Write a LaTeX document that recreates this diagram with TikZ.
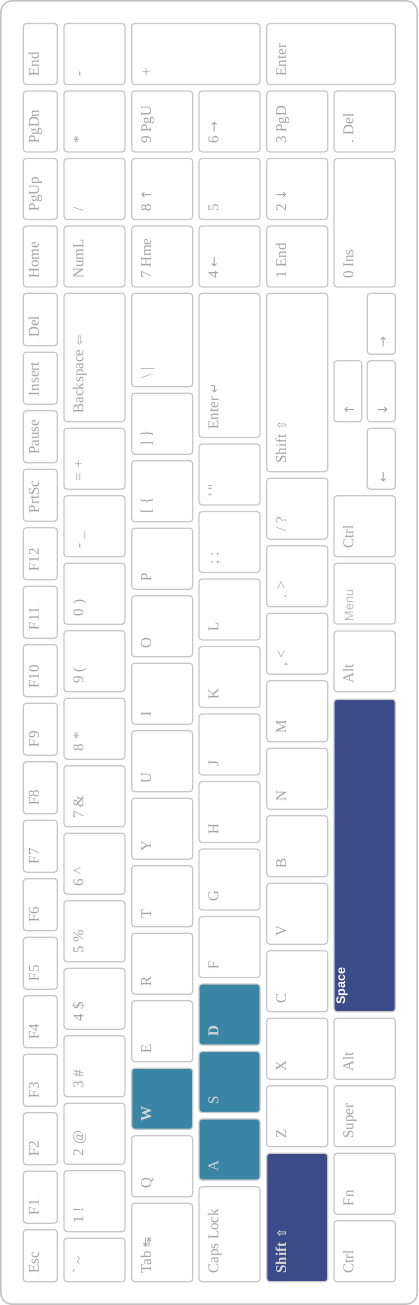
\documentclass[tikz,border=0pt]{standalone}
\usepackage{fontspec}
\setmainfont{Liberation Serif}
\newfontfamily\kbsym{DejaVu Sans}
\newfontfamily\kbsans{Liberation Sans}
\definecolor{keyline}{RGB}{200,200,200}
\definecolor{framegray}{RGB}{195,195,195}
\definecolor{labelgray}{RGB}{165,165,165}
\definecolor{menugray}{RGB}{190,190,190}
\definecolor{tealkey}{RGB}{58,132,165}
\definecolor{bluekey}{RGB}{59,74,136}
\definecolor{hltext}{RGB}{215,215,215}
\newcommand\kbdx{8}
\newcommand\kbdy{19.3}
\newcommand\kbkey[7][plain]{%
  \draw[keybox,#1] (#3,#5) rectangle (#4,#6);
  \node[keylabel,#1 text] (#2) at (#3+\kbdx,#6-\kbdy) {#7};}
\newcommand\sy[1]{{\kbsym\fontsize{12}{12}\selectfont #1}}
\newcommand\ar[1]{{\kbsym\fontsize{13}{13}\selectfont #1}}
\tikzset{
  keybox/.style={draw=keyline, line width=1.2pt, rounded corners=3pt, fill=white},
  keylabel/.style={anchor=base west, inner sep=0pt, text=labelgray,
    font=\fontsize{15}{15}\selectfont, transform shape},
  plain/.style={}, plain text/.style={},
  wasd/.style={fill=tealkey}, wasd text/.style={text=hltext},
  wasdb/.style={fill=tealkey}, wasdb text/.style={text=hltext, font=\bfseries\fontsize{15}{15}\selectfont},
  dark/.style={fill=bluekey}, dark text/.style={text=hltext, font=\bfseries\fontsize{15}{15}\selectfont},
  space/.style={fill=bluekey}, space text/.style={text=white, font=\kbsans\bfseries\fontsize{12.5}{12.5}\selectfont},
  menu/.style={}, menu text/.style={text=menugray, font=\kbsans\fontsize{12.5}{12.5}\selectfont},
  frame/.style={draw=framegray, line width=1.5pt, rounded corners=11pt}
}
\begin{document}
\begin{tikzpicture}[x=1pt,y=1pt]
\useasboundingbox (0,0) rectangle (418,-1305);
\draw[frame] (0.8,-0.8) rectangle (417.2,-1304.2);
\begin{scope}[shift={(418,-1305)}, rotate=90]
% ---------- row 0 : function row ----------
\renewcommand\kbdy{15.5}
\kbkey{esc}{23.3}{75.3}{360.7}{394.7}{Esc}
\kbkey{f1}{81.8}{133.8}{360.7}{394.7}{F1}
\kbkey{f2}{140.3}{192.3}{360.7}{394.7}{F2}
\kbkey{f3}{198.8}{250.8}{360.7}{394.7}{F3}
\kbkey{f4}{257.3}{309.3}{360.7}{394.7}{F4}
\kbkey{f5}{315.8}{367.8}{360.7}{394.7}{F5}
\kbkey{f6}{374.3}{426.3}{360.7}{394.7}{F6}
\kbkey{f7}{432.8}{484.8}{360.7}{394.7}{F7}
\kbkey{f8}{491.3}{543.3}{360.7}{394.7}{F8}
\kbkey{f9}{549.8}{601.8}{360.7}{394.7}{F9}
\kbkey{f10}{608.3}{660.3}{360.7}{394.7}{F10}
\kbkey{f11}{666.8}{718.8}{360.7}{394.7}{F11}
\kbkey{f12}{725.3}{777.3}{360.7}{394.7}{F12}
\kbkey{prtsc}{783.8}{835.8}{360.7}{394.7}{PrtSc}
\kbkey{pause}{842.3}{894.3}{360.7}{394.7}{Pause}
\kbkey{insert}{900.8}{952.8}{360.7}{394.7}{Insert}
\kbkey{del}{959.3}{1011.7}{360.7}{394.7}{Del}
\kbkey{home}{1018}{1079}{360.7}{394.7}{Home}
\kbkey{pgup}{1085.5}{1146.5}{360.7}{394.7}{PgUp}
\kbkey{pgdn}{1153}{1214}{360.7}{394.7}{PgDn}
\kbkey{end}{1220.5}{1281.5}{360.7}{394.7}{End}
\renewcommand\kbdy{19.3}
% ---------- row 1 : numbers ----------
\kbkey{grave}{23.3}{66.8}{293}{354}{\textasciigrave\ \textasciitilde}
\kbkey{n1}{73.3}{134.3}{293}{354}{1 !}
\kbkey{n2}{140.8}{201.8}{293}{354}{2 @}
\kbkey{n3}{208.3}{269.3}{293}{354}{3 \#}
\kbkey{n4}{275.8}{336.8}{293}{354}{4 \$}
\kbkey{n5}{343.3}{404.3}{293}{354}{5 \%}
\kbkey{n6}{410.8}{471.8}{293}{354}{6 \textasciicircum}
\kbkey{n7}{478.3}{539.3}{293}{354}{7 \&}
\kbkey{n8}{545.8}{606.8}{293}{354}{8 *}
\kbkey{n9}{613.3}{674.3}{293}{354}{9 (}
\kbkey{n0}{680.8}{741.8}{293}{354}{0 )}
\kbkey{minus}{748.3}{809.3}{293}{354}{- \_}
\kbkey{equal}{815.8}{876.8}{293}{354}{= +}
\kbkey{bksp}{883.3}{1011.7}{293}{354}{Backspace \sy{⇦}}
\kbkey{numl}{1018}{1079}{293}{354}{NumL}
\kbkey{kpslash}{1085.5}{1146.5}{293}{354}{/}
\kbkey{kpstar}{1153}{1214}{293}{354}{*}
\kbkey{kpminus}{1220.5}{1281.5}{293}{354}{-}
% ---------- row 2 : QWERTY ----------
\kbkey{tab}{23.3}{101.7}{225.3}{286.3}{Tab \sy{↹}}
\kbkey{q}{108.3}{169.3}{225.3}{286.3}{Q}
\kbkey[wasdb]{w}{175.8}{236.8}{225.3}{286.3}{W}
\kbkey{e}{243.3}{304.3}{225.3}{286.3}{E}
\kbkey{r}{310.8}{371.8}{225.3}{286.3}{R}
\kbkey{t}{378.3}{439.3}{225.3}{286.3}{T}
\kbkey{y}{445.8}{506.8}{225.3}{286.3}{Y}
\kbkey{u}{513.3}{574.3}{225.3}{286.3}{U}
\kbkey{i}{580.8}{641.8}{225.3}{286.3}{I}
\kbkey{o}{648.3}{709.3}{225.3}{286.3}{O}
\kbkey{p}{715.8}{776.8}{225.3}{286.3}{P}
\kbkey{lbr}{783.3}{844.3}{225.3}{286.3}{[ \{}
\kbkey{rbr}{850.8}{911.8}{225.3}{286.3}{] \}}
\kbkey{bslash}{918.3}{1011.7}{225.3}{286.3}{\textbackslash\ |}
\kbkey{kp7}{1018}{1079}{225.3}{286.3}{7 Hme}
\kbkey{kp8}{1085.5}{1146.5}{225.3}{286.3}{8 \ar{↑}}
\kbkey{kp9}{1153}{1214}{225.3}{286.3}{9 PgU}
\kbkey{kpplus}{1220.5}{1281.5}{158}{286.3}{+}
% ---------- row 3 : home row ----------
\kbkey{caps}{23.3}{118.3}{158}{219}{Caps Lock}
\kbkey[wasd]{a}{125}{186}{158}{219}{A}
\kbkey[wasd]{s}{192.5}{253.5}{158}{219}{S}
\kbkey[wasdb]{d}{260}{321}{158}{219}{D}
\kbkey{f}{327.5}{388.5}{158}{219}{F}
\kbkey{g}{395}{456}{158}{219}{G}
\kbkey{h}{462.5}{523.5}{158}{219}{H}
\kbkey{j}{530}{591}{158}{219}{J}
\kbkey{k}{597.5}{658.5}{158}{219}{K}
\kbkey{l}{665}{726}{158}{219}{L}
\kbkey{semi}{732.5}{793.5}{158}{219}{; :}
\kbkey{quote}{800}{861}{158}{219}{\textquotesingle\ \textquotedbl}
\kbkey{enter}{867.5}{1011.7}{158}{219}{Enter \sy{↵}}
\kbkey{kp4}{1018}{1079}{158}{219}{4 \ar{←}}
\kbkey{kp5}{1085.5}{1146.5}{158}{219}{5}
\kbkey{kp6}{1153}{1214}{158}{219}{6 \ar{→}}
% ---------- row 4 : shift row ----------
\kbkey[dark]{lshift}{23.3}{151.7}{90.3}{151.3}{Shift \sy{⇧}}
\kbkey{z}{158.3}{219.3}{90.3}{151.3}{Z}
\kbkey{x}{225.8}{286.8}{90.3}{151.3}{X}
\kbkey{c}{293.3}{354.3}{90.3}{151.3}{C}
\kbkey{v}{360.8}{421.8}{90.3}{151.3}{V}
\kbkey{b}{428.3}{489.3}{90.3}{151.3}{B}
\kbkey{nn}{495.8}{556.8}{90.3}{151.3}{N}
\kbkey{m}{563.3}{624.3}{90.3}{151.3}{M}
\kbkey{comma}{630.8}{691.8}{90.3}{151.3}{, <}
\kbkey{period}{698.3}{759.3}{90.3}{151.3}{. >}
\kbkey{slash}{765.8}{826.8}{90.3}{151.3}{/ ?}
\kbkey{rshift}{833.3}{1011.7}{90.3}{151.3}{Shift \sy{⇧}}
\kbkey{kp1}{1018}{1079}{90.3}{151.3}{1 End}
\kbkey{kp2}{1085.5}{1146.5}{90.3}{151.3}{2 \ar{↓}}
\kbkey{kp3}{1153}{1214}{90.3}{151.3}{3 PgD}
\kbkey{kpenter}{1220.5}{1281.5}{22.7}{151.3}{Enter}
% ---------- row 5 : bottom row ----------
\kbkey{lctrl}{23.3}{84.3}{22.7}{84}{Ctrl}
\kbkey{fn}{90.8}{151.8}{22.7}{84}{Fn}
\kbkey{super}{158.3}{219.3}{22.7}{84}{Super}
\kbkey{lalt}{225.8}{286.8}{22.7}{84}{Alt}
\renewcommand\kbdx{6.7}\renewcommand\kbdy{11}
\kbkey[space]{spacebar}{293.3}{605.7}{22.7}{84}{Space}
\renewcommand\kbdx{8}\renewcommand\kbdy{19.3}
\kbkey{ralt}{613.3}{674}{22.7}{84}{Alt}
\renewcommand\kbdx{2.5}
\kbkey[menu]{menukey}{681}{741.7}{22.7}{84}{Menu}
\renewcommand\kbdx{8}
\kbkey{rctrl}{748.3}{809.3}{22.7}{84}{Ctrl}
\renewcommand\kbdx{6.5}\renewcommand\kbdy{20}
\kbkey{left}{815.7}{876.7}{22.7}{50.7}{\ar{←}}
\kbkey{up}{883.3}{944.3}{56.3}{84}{\ar{↑}}
\kbkey{down}{883.3}{944.3}{22.7}{50.7}{\ar{↓}}
\kbkey{right}{950.7}{1011.7}{22.7}{50.7}{\ar{→}}
\renewcommand\kbdx{8}\renewcommand\kbdy{19.3}
\kbkey{kp0}{1018}{1146.5}{22.7}{84}{0 Ins}
\kbkey{kpdot}{1153}{1214}{22.7}{84}{. Del}
\end{scope}
\end{tikzpicture}
\end{document}
